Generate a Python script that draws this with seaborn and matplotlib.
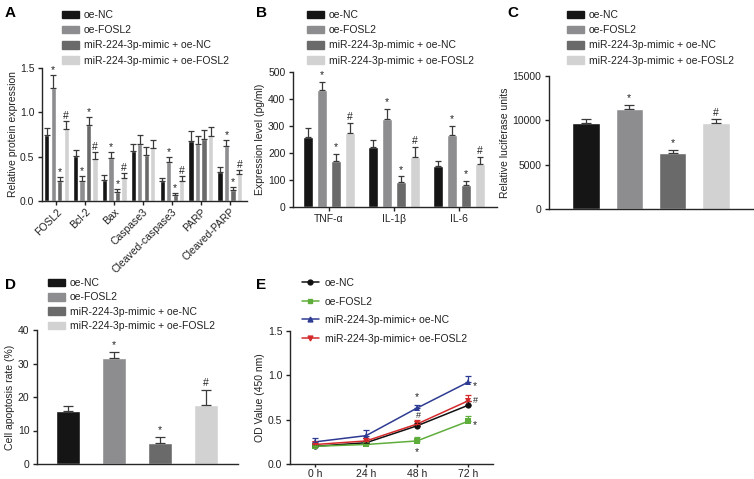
import numpy as np
import pandas as pd
import seaborn as sn
import matplotlib.pyplot as plt
from matplotlib.patches import Patch
from matplotlib.lines import Line2D
from matplotlib.container import BarContainer

# groups shared by all panels
groups = ["oe-NC", "oe-FOSL2", "miR-224-3p-mimic + oe-NC", "miR-224-3p-mimic + oe-FOSL2"]
bar_colors = ["#151515", "#8d8d90", "#6a6a6a", "#d2d2d2"]

# A - protein expression
a_cats = ["FOSL2", "Bcl-2", "Bax", "Caspase3", "Cleaved-caspase3", "PARP", "Cleaved-PARP"]
a_nc = [0.75, 0.51, 0.24, 0.56, 0.22, 0.68, 0.33]
a_fosl2 = [1.28, 0.23, 0.48, 0.64, 0.44, 0.64, 0.62]
a_mimic_nc = [0.23, 0.86, 0.10, 0.52, 0.07, 0.70, 0.12]
a_mimic_fosl2 = [0.81, 0.47, 0.26, 0.60, 0.23, 0.73, 0.30]
a_nc_err = [0.07, 0.07, 0.05, 0.08, 0.04, 0.11, 0.05]
a_fosl2_err = [0.14, 0.05, 0.07, 0.10, 0.06, 0.09, 0.07]
a_mimic_nc_err = [0.04, 0.09, 0.03, 0.09, 0.02, 0.10, 0.04]
a_mimic_fosl2_err = [0.09, 0.08, 0.06, 0.09, 0.05, 0.11, 0.05]
a_marks = [["", "*", "*", "#"], ["", "*", "*", "#"], ["", "*", "*", "#"], ["", "", "", ""],
           ["", "*", "*", "#"], ["", "", "", ""], ["", "*", "*", "#"]]

# B - cytokines
b_cats = ["TNF-α", "IL-1β", "IL-6"]
b_nc = [260, 222, 150]
b_fosl2 = [432, 327, 265]
b_mimic_nc = [172, 93, 80]
b_mimic_fosl2 = [274, 186, 161]
b_nc_err = [33, 27, 20]
b_fosl2_err = [32, 37, 36]
b_mimic_nc_err = [25, 20, 17]
b_mimic_fosl2_err = [37, 35, 24]
b_marks = [["", "*", "*", "#"]] * 3

# C - luciferase
c_vals = [9700, 11300, 6300, 9700]
c_err = [500, 450, 350, 400]
# D - apoptosis
d_vals = [15.8, 31.5, 6.2, 17.5]
d_err = [1.6, 2.0, 2.0, 4.6]
cd_marks = ["", "*", "*", "#"]

# E - OD values
e_times = ["0 h", "24 h", "48 h", "72 h"]
e_groups = ["oe-NC", "oe-FOSL2", "miR-224-3p-mimic+ oe-NC", "miR-224-3p-mimic+ oe-FOSL2"]
e_nc = [0.20, 0.24, 0.43, 0.66]
e_fosl2 = [0.20, 0.22, 0.26, 0.48]
e_mimic_nc = [0.25, 0.32, 0.63, 0.92]
e_mimic_fosl2 = [0.22, 0.26, 0.45, 0.71]
e_nc_err = [0.02, 0.02, 0.03, 0.05]
e_fosl2_err = [0.02, 0.01, 0.05, 0.06]
e_mimic_nc_err = [0.04, 0.06, 0.04, 0.07]
e_mimic_fosl2_err = [0.02, 0.03, 0.05, 0.07]
e_colors = ["#111111", "#5fae3b", "#2e3b92", "#d42a2c"]
e_markers = ["o", "s", "^", "v"]

sn.set_style("ticks")
plt.rcParams['font.family'] = ['Liberation Sans', 'DejaVu Sans']
plt.rcParams['font.size'] = 7.5
plt.rcParams['axes.linewidth'] = 1.0
plt.rcParams['xtick.major.width'] = 1.0
plt.rcParams['ytick.major.width'] = 1.0
plt.rcParams['xtick.major.size'] = 3
plt.rcParams['ytick.major.size'] = 3
plt.rcParams['xtick.major.pad'] = 2
plt.rcParams['ytick.major.pad'] = 2.5
plt.rcParams['axes.labelpad'] = 2
plt.rcParams['text.color'] = '#222222'
plt.rcParams['xtick.color'] = '#222222'
plt.rcParams['ytick.color'] = '#222222'
plt.rcParams['axes.labelcolor'] = '#222222'

W, H = 754, 479
fig = plt.figure(figsize=(W / 100, H / 100), dpi=100)


def px(l, t, r, b):
    return [l / W, 1 - b / H, (r - l) / W, (b - t) / H]


def bar_legend(ax, x, y, spacing=0.5):
    handles = [Patch(facecolor=c, edgecolor=c) for c in bar_colors]
    ax.legend(handles, groups, loc="upper left", bbox_to_anchor=(x / W, 1 - y / H),
              bbox_transform=fig.transFigure, frameon=False, fontsize=7.5,
              handlelength=1.6, handleheight=0.75, handletextpad=0.5, labelspacing=spacing,
              borderpad=0, borderaxespad=0)


def add_errors(ax, cats, errs, marks, off):
    # errs[group][cat]
    bars = [c for c in ax.containers if isinstance(c, BarContainer)]
    for gi, cont in enumerate(bars):
        for p in cont:
            xc = p.get_x() + p.get_width() / 2
            ci = int(round(xc)) if len(cats) > 1 else gi
            h = p.get_height()
            e = errs[gi][ci] if len(cats) > 1 else errs[gi]
            ax.errorbar(xc, h, yerr=[[0], [e]], fmt="none", ecolor="#3a3a3a",
                        elinewidth=0.9, capsize=2.2 if len(cats) > 1 else 3.5, capthick=0.9)
            m = marks[ci][gi] if len(cats) > 1 else marks[gi]
            if m:
                ax.text(xc, h + e + off, m, ha="center", va="bottom", fontsize=7.5, color="#222222")


def grouped_df(cats, series):
    rows = []
    for g, vals in zip(groups, series):
        for c, v in zip(cats, vals):
            rows.append({"cat": c, "group": g, "value": v})
    return pd.DataFrame(rows)


# ---- A ----
axA = fig.add_axes(px(42, 68, 247, 201))
dfA = grouped_df(a_cats, [a_nc, a_fosl2, a_mimic_nc, a_mimic_fosl2])
sn.barplot(data=dfA, x="cat", y="value", hue="group", palette=bar_colors, width=0.9,
           gap=0.18, legend=False, ax=axA)
add_errors(axA, a_cats, [a_nc_err, a_fosl2_err, a_mimic_nc_err, a_mimic_fosl2_err], a_marks, 0.0)
axA.set_ylim(0, 1.5)
axA.set_yticks([0.0, 0.5, 1.0, 1.5])
axA.set_yticklabels(["0.0", "0.5", "1.0", "1.5"])
axA.set_xlim(-0.5, 6.6)
axA.set_xlabel("")
axA.set_ylabel("Relative protein expression", labelpad=1)
axA.tick_params(axis="x", rotation=45, pad=1)
for lab in axA.get_xticklabels():
    lab.set_ha("right")
    lab.set_rotation_mode("anchor")
sn.despine(ax=axA)
bar_legend(axA, 62, 10)
fig.text(5 / W, 1 - 17 / H, "A", fontsize=11, fontweight="bold", color="black")

# ---- B ----
axB = fig.add_axes(px(293, 72, 497, 207))
dfB = grouped_df(b_cats, [b_nc, b_fosl2, b_mimic_nc, b_mimic_fosl2])
sn.barplot(data=dfB, x="cat", y="value", hue="group", palette=bar_colors, width=0.86,
           gap=0.25, legend=False, ax=axB)
add_errors(axB, b_cats, [b_nc_err, b_fosl2_err, b_mimic_nc_err, b_mimic_fosl2_err], b_marks, 5)
axB.set_ylim(0, 500)
axB.set_yticks(range(0, 501, 100))
axB.set_xlim(-0.55, 2.58)
axB.set_xlabel("")
axB.set_ylabel("Expression level (pg/ml)")
sn.despine(ax=axB)
bar_legend(axB, 307, 10)
fig.text(256 / W, 1 - 17 / H, "B", fontsize=11, fontweight="bold", color="black")

# ---- C ----
axC = fig.add_axes(px(549, 76, 753, 209))
sn.barplot(x=groups, y=c_vals, hue=groups, palette=bar_colors, width=0.63, legend=False, ax=axC)
add_errors(axC, [0], c_err, cd_marks, 200)
axC.set_ylim(0, 15000)
axC.set_yticks([0, 5000, 10000, 15000])
axC.set_xlim(-0.85, 3.85)
axC.set_xticks([])
axC.set_ylabel("Relative luciferase units")
sn.despine(ax=axC)
bar_legend(axC, 567, 10)
fig.text(507 / W, 1 - 17 / H, "C", fontsize=11, fontweight="bold", color="black")

# ---- D ----
axD = fig.add_axes(px(37, 330, 238, 464))
sn.barplot(x=groups, y=d_vals, hue=groups, palette=bar_colors, width=0.52, legend=False, ax=axD)
add_errors(axD, [0], d_err, cd_marks, 0.5)
axD.set_ylim(0, 40)
axD.set_yticks([0, 10, 20, 30, 40])
axD.set_xlim(-0.68, 3.7)
axD.set_xticks([])
axD.set_ylabel("Cell apoptosis rate (%)")
sn.despine(ax=axD)
bar_legend(axD, 48, 278, spacing=0.42)
fig.text(5 / W, 1 - 289 / H, "D", fontsize=11, fontweight="bold", color="black")

# ---- E ----
axE = fig.add_axes(px(290, 331, 493, 464))
e_series = [e_nc, e_fosl2, e_mimic_nc, e_mimic_fosl2]
e_errs = [e_nc_err, e_fosl2_err, e_mimic_nc_err, e_mimic_fosl2_err]
rows = []
for g, vals in zip(e_groups, e_series):
    for i, v in enumerate(vals):
        rows.append({"t": i, "group": g, "value": v})
dfE = pd.DataFrame(rows)
sn.lineplot(data=dfE, x="t", y="value", hue="group", style="group", palette=e_colors,
            markers=e_markers, dashes=False, markersize=4.5, markeredgewidth=0,
            linewidth=1.1, legend=False, ax=axE)
for vals, errs, c in zip(e_series, e_errs, e_colors):
    axE.errorbar(range(len(vals)), vals, yerr=[np.zeros(len(errs)), errs], fmt="none",
                 ecolor=c, elinewidth=0.9, capsize=2.5, capthick=0.9)
# significance marks
axE.text(3.1, e_mimic_nc[3] - 0.04, "*", fontsize=7.5, ha="left", va="center")
axE.text(3.1, e_mimic_fosl2[3] + 0.01, "#", fontsize=6.5, ha="left", va="center")
axE.text(3.1, e_fosl2[3] - 0.04, "*", fontsize=7.5, ha="left", va="center")
axE.text(2, e_mimic_nc[2] + e_mimic_nc_err[2] + 0.03, "*", fontsize=7.5, ha="center", va="bottom")
axE.text(2.03, e_mimic_fosl2[2] + e_mimic_fosl2_err[2] + 0.0, "#", fontsize=6.5, ha="center", va="bottom")
axE.text(2, e_fosl2[2] - 0.07, "*", fontsize=7.5, ha="center", va="top")
axE.set_ylim(0, 1.5)
axE.set_yticks([0.0, 0.5, 1.0, 1.5])
axE.set_yticklabels(["0.0", "0.5", "1.0", "1.5"])
axE.set_xlim(-0.5, 3.5)
axE.set_xticks(range(len(e_times)))
axE.set_xticklabels(e_times)
axE.tick_params(axis="x", length=2.5, pad=1)
axE.set_xlabel("")
axE.set_ylabel("OD Value (450 nm)")
sn.despine(ax=axE)
e_handles = [Line2D([0], [0], color=c, marker=m, markersize=3.5, linewidth=1.1)
             for c, m in zip(e_colors, e_markers)]
axE.legend(e_handles, e_groups, loc="upper left", bbox_to_anchor=(302 / W, 1 - 278 / H),
           bbox_transform=fig.transFigure, frameon=False, fontsize=7.5, handlelength=1.6,
           handletextpad=0.6, labelspacing=0.82, borderpad=0, borderaxespad=0)
fig.text(256 / W, 1 - 289 / H, "E", fontsize=11, fontweight="bold", color="black")

fig.savefig("out.png", dpi=100)
